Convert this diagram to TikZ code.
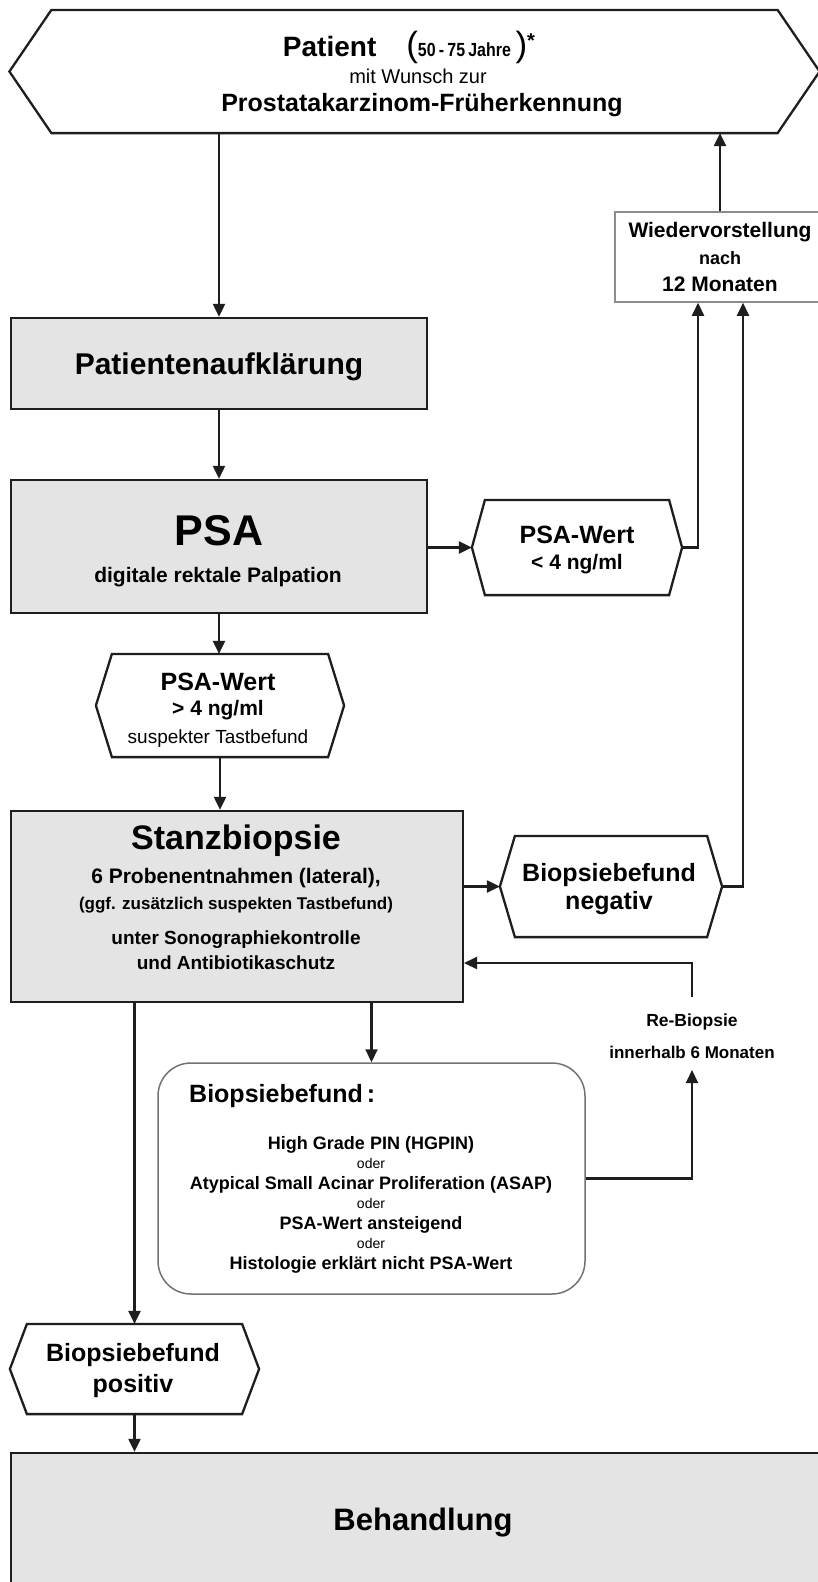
\documentclass[tikz,border=0pt]{standalone}
\usepackage{fontspec}
\setmainfont{Liberation Sans}
\newfontfamily\narrowf[FakeStretch=0.84]{Liberation Sans}
\usetikzlibrary{arrows.meta}
\newcommand\fs[1]{\fontsize{#1}{#1}\selectfont}
\definecolor{boxgray}{HTML}{E4E4E4}
\definecolor{linegray}{HTML}{1E1E1E}
\newcommand\hexdraw[2]{\draw[hexline] (#1.west) -- ([xshift=#2]#1.north west) -- ([xshift=-#2]#1.north east) -- (#1.east) -- ([xshift=-#2]#1.south east) -- ([xshift=#2]#1.south west) -- cycle;}
\begin{document}
\begin{tikzpicture}[x=1pt,y=-1pt,
  frame/.style={draw=linegray, line width=2.3pt, fill=boxgray, inner sep=0pt, rectangle},
  hexbox/.style={inner sep=0pt, outer sep=1.1pt, rectangle, draw=none},
  txt/.style={inner sep=0pt, font=\bfseries, align=center},
  rtxt/.style={inner sep=0pt, font=\mdseries, align=center},
  arr/.style={line width=2.1pt, draw=linegray, -{Triangle[length=13pt,width=12pt]}},
  hexline/.style={line width=2.3pt, draw=linegray, line join=miter}
]
\useasboundingbox[fill=white] (0,0) rectangle (818,1582);

% top hexagon
\node[hexbox, minimum width=808pt, minimum height=121pt] (top) at (414.5,71.5) {};
\hexdraw{top}{42pt}
\node[txt] (t1) at (409,47) {\fs{28}Patient\hspace{30pt}{\fs{35}\mdseries(}{\narrowf\fs{19}\bfseries 50\,-\,75\,Jahre}\,{\fs{35}\mdseries)}\raisebox{9pt}{\fs{20}*}};
\node[rtxt] (t2) at (418,76) {\fs{20}mit Wunsch zur};
\node[txt] (t3) at (422,105) {\fs{25}Prostatakarzinom-Früherkennung};

% Wiedervorstellung
\node[rectangle, draw=black!45, line width=1.5pt, minimum width=210pt, minimum height=90pt, inner sep=0pt] (wv) at (720,257) {};
\node[txt] (wv1) at (720,232) {\fs{21}Wiedervorstellung};
\node[txt] (wv2) at (720,258) {\fs{18}nach};
\node[txt] (wv3) at (720,284) {\fs{21}12 Monaten};

% Patientenaufklaerung
\node[frame, minimum width=416pt, minimum height=91pt] (auf) at (219,363.5) {};
\node[txt] (auft) at (219,367) {\fs{30}Patientenaufklärung};

% PSA
\node[frame, minimum width=416pt, minimum height=133pt] (psa) at (219,546.5) {};
\node[txt] (psat1) at (219,531) {\fs{43}PSA};
\node[txt] (psat2) at (218,577) {\fs{21}digitale rektale Palpation};

% PSA < 4
\node[hexbox, minimum width=208pt, minimum height=93pt] (psal) at (577,547.5) {};
\hexdraw{psal}{13pt}
\node[txt] (psal1) at (577,535) {\fs{25}PSA-Wert};
\node[txt] (psal2) at (577,564) {\fs{21}< 4 ng/ml};

% PSA > 4
\node[hexbox, minimum width=246pt, minimum height=101pt] (psag) at (220,705.5) {};
\hexdraw{psag}{16pt}
\node[txt] (psag1) at (218,682) {\fs{25}PSA-Wert};
\node[txt] (psag2) at (218,710) {\fs{21}> 4 ng/ml};
\node[rtxt] (psag3) at (218,739) {\fs{19}suspekter Tastbefund};

% Stanzbiopsie
\node[frame, minimum width=452pt, minimum height=191pt] (stanz) at (237,906.5) {};
\node[txt] (st1) at (236,841) {\fs{34}Stanzbiopsie};
\node[txt] (st2) at (236,878) {\fs{21}6 Probenentnahmen (lateral),};
\node[txt] (st3) at (236,905) {\fs{17}(ggf. zusätzlich suspekten Tastbefund)};
\node[txt] (st4) at (236,940) {\fs{19}unter Sonographiekontrolle};
\node[txt] (st5) at (236,963) {\fs{19}und Antibiotikaschutz};

% negativ
\node[hexbox, minimum width=220pt, minimum height=99pt] (neg) at (611,886.5) {};
\hexdraw{neg}{15pt}
\node[txt] (neg1) at (609,875) {\fs{25}Biopsiebefund};
\node[txt] (neg2) at (609,903) {\fs{25}negativ};

% Biopsiebefund rounded
\node[draw=black!55, line width=1.5pt, rounded corners=33pt, minimum width=427pt, minimum height=231pt, inner sep=0pt] (bf) at (371.5,1178.5) {};
\node[txt, anchor=west] (bf0) at (189,1096) {\fs{25}Biopsiebefund\,:};
\node[txt, anchor=base] (bf1) at (371,1149.5) {\fs{18}High Grade PIN (HGPIN)};
\node[rtxt, anchor=base] (bf2) at (371,1168) {\fs{14}oder};
\node[txt, anchor=base] (bf3) at (371,1189.5) {\fs{18}Atypical Small Acinar Proliferation (ASAP)};
\node[rtxt, anchor=base] (bf4) at (371,1208) {\fs{14}oder};
\node[txt, anchor=base] (bf5) at (371,1229.5) {\fs{18}PSA-Wert ansteigend};
\node[rtxt, anchor=base] (bf6) at (371,1248) {\fs{14}oder};
\node[txt, anchor=base] (bf7) at (371,1269.5) {\fs{18}Histologie erklärt nicht PSA-Wert};

% Re-Biopsie label
\node[txt] (rb1) at (692,1022) {\fs{17.5}Re-Biopsie};
\node[txt] (rb2) at (692,1052) {\fs{17}innerhalb 6 Monaten};
\coordinate (rbtop) at (692,997);
\coordinate (rbbot) at (692,1070);
\coordinate (rbin) at (464,963);

% positiv
\node[hexbox, minimum width=247pt, minimum height=88pt] (pos) at (134.5,1369) {};
\hexdraw{pos}{17pt}
\node[txt] (pos1) at (133,1355) {\fs{25}Biopsiebefund};
\node[txt] (pos2) at (133,1386) {\fs{25}positiv};

% Behandlung
\node[frame, minimum width=819pt, minimum height=132pt] (beh) at (420.5,1519) {};
\node[txt] (beht) at (423,1523) {\fs{31}Behandlung};

% connectors
\draw[arr] (top.south -| auf.north) -- (auf.north);
\draw[arr] (auf.south) -- (psa.north);
\draw[arr] (psa.east |- psal.west) -- (psal.west);
\draw[arr] (psal.east) -| ([xshift=-22pt]wv.south);
\draw[arr] (wv.north) -- (wv.north |- top.south);
\draw[arr] (psa.south) -- (psa.south |- psag.north);
\draw[arr] (psag.south) -- (psag.south |- stanz.north);
\draw[arr] (stanz.east |- neg.west) -- (neg.west);
\draw[arr] (neg.east) -| ([xshift=23pt]wv.south);
\draw[arr] (bf.north |- stanz.south) -- (bf.north);
\draw[arr] (pos.north |- stanz.south) -- (pos.north);
\draw[arr] (pos.south) -- (pos.south |- beh.north);
\draw[arr] (bf.east) -| (rbbot);
\draw[arr] (rbtop) |- (rbin);
\end{tikzpicture}
\end{document}
